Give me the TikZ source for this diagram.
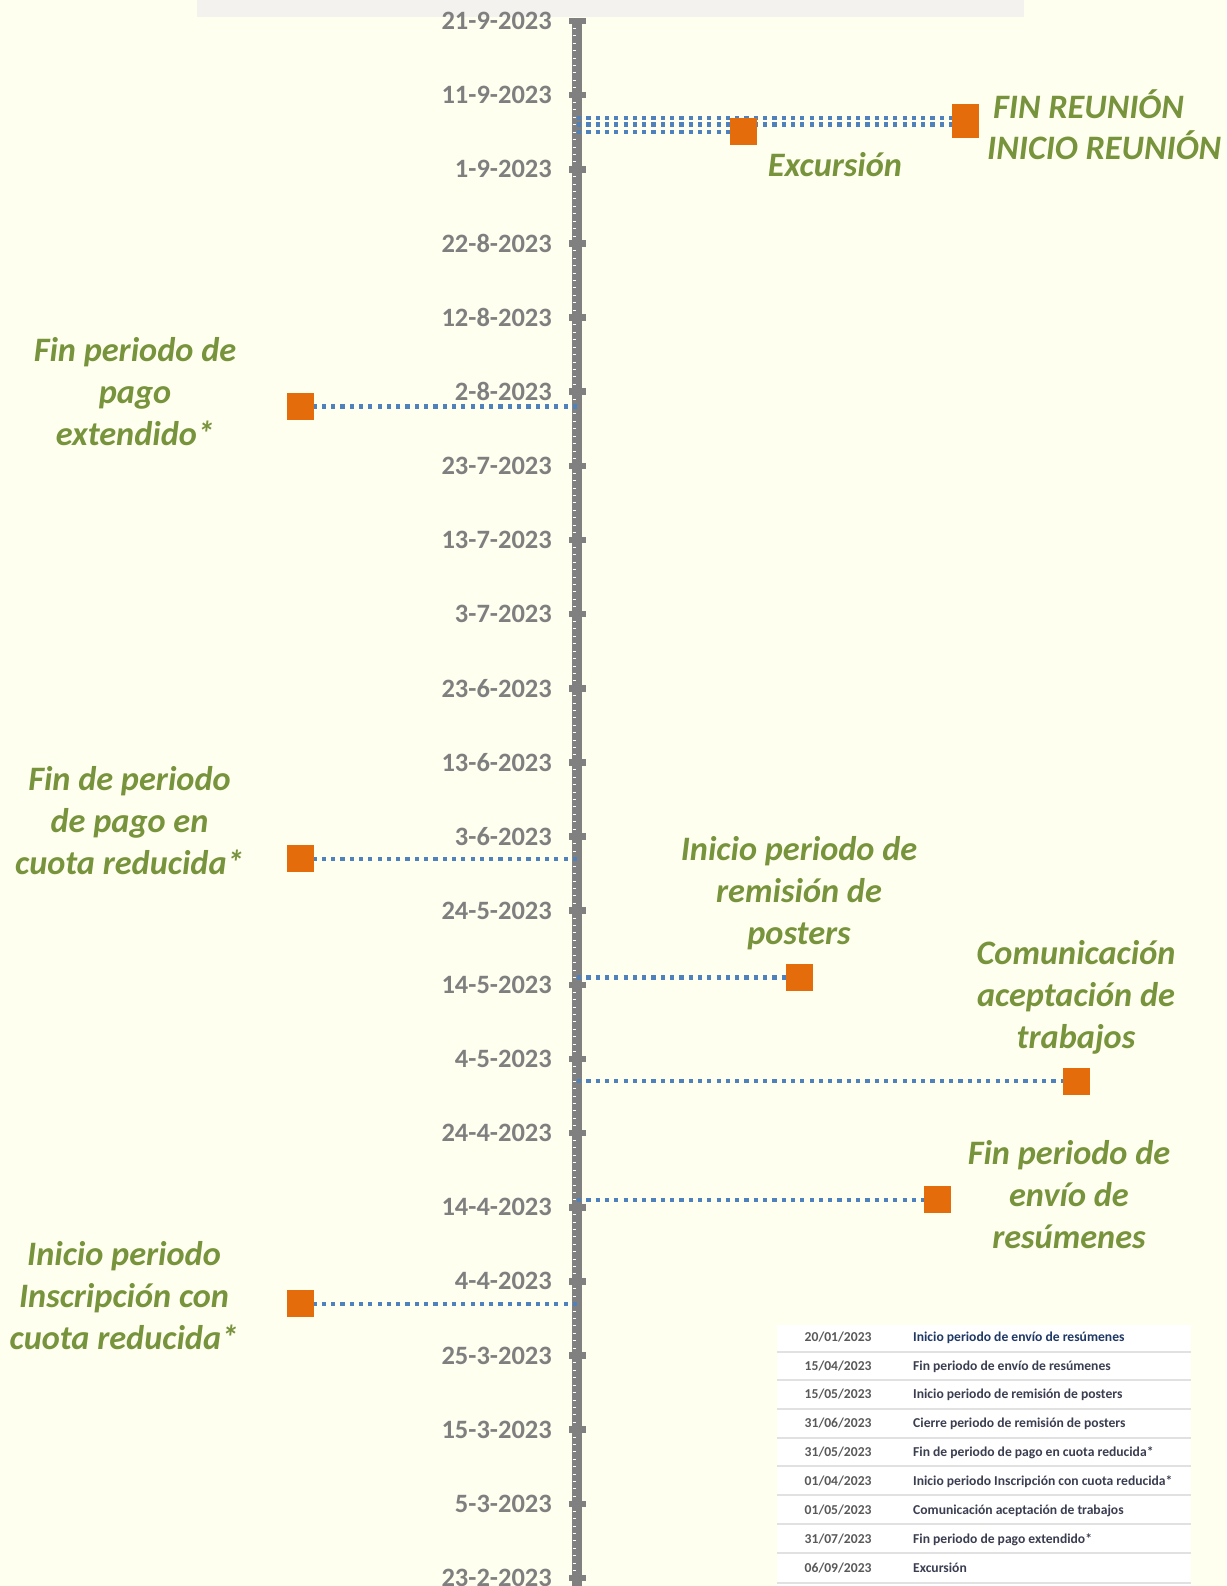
\documentclass[tikz,border=0pt]{standalone}
\usepackage{fontspec}
\setmainfont{Carlito}
\definecolor{bgc}{RGB}{255,255,240}
\definecolor{stripc}{RGB}{244,242,238}
\definecolor{axisgray}{RGB}{128,128,128}
\definecolor{labgray}{RGB}{127,127,127}
\definecolor{evgreen}{RGB}{119,147,60}
\definecolor{evorange}{RGB}{228,108,10}
\definecolor{leadblue}{RGB}{79,129,189}
\definecolor{tabdate}{RGB}{89,89,89}
\definecolor{tabnavy}{RGB}{31,56,100}
\definecolor{tabtext}{RGB}{59,62,80}
\definecolor{tabline}{RGB}{225,225,225}
\pgfdeclarelayer{back}
\pgfdeclarelayer{mid}
\pgfsetlayers{back,mid,main}
\newcommand\mlab[1]{\begin{tabular}{@{}c@{}}#1\end{tabular}}
\begin{document}
\begin{tikzpicture}[x=1pt,y=-1pt,
 evsq/.style={fill=evorange,draw=none,minimum width=27pt,minimum height=27pt,inner sep=0pt,outer sep=0pt},
 lead/.style={draw=leadblue,line width=4.2pt,dash pattern=on 4.2pt off 5.1pt},
 evlab/.style={text=evgreen,inner sep=0pt,font=\fontsize{34.3}{42}\selectfont\bfseries\itshape},
 ticklab/.style={text=labgray,inner sep=0pt,anchor=east,font=\fontsize{26.5}{32}\selectfont\bfseries},
 tabcell/.style={inner sep=0pt,anchor=base west,font=\fontsize{13.6}{16}\selectfont\bfseries},
 tabdt/.style={tabcell,text=tabdate},
 tabds/.style={tabcell,text=tabtext}]
\useasboundingbox (0,0) rectangle (1226,1586);
\begin{pgfonlayer}{back}
\fill[bgc] (0,0) rectangle (1226,1586);
\fill[stripc] (197,0) rectangle (1024,17.3);
\fill[axisgray] (572,18) rectangle (582,1586);
\foreach \d in {1,...,209} {\draw[white,line width=1pt] (572.5,{21+7.414*\d}) -- (576,{21+7.414*\d});}
\foreach \i in {0,...,21} {\fill[axisgray] (569,{21+74.14*\i-3.3}) rectangle (586,{21+74.14*\i+3.3});}
\end{pgfonlayer}
% tick labels
\foreach \lab [count=\i from 0] in {21-9-2023,11-9-2023,1-9-2023,22-8-2023,12-8-2023,2-8-2023,23-7-2023,13-7-2023,3-7-2023,23-6-2023,13-6-2023,3-6-2023,24-5-2023,14-5-2023,4-5-2023,24-4-2023,14-4-2023,4-4-2023,25-3-2023,15-3-2023,5-3-2023,23-2-2023}
  {\node[ticklab] (t\i) at (552,{21+74.14*\i}) {\lab};}
% event squares
\node[evsq] (s1) at (300.5,406.5) {};
\node[evsq] (s2) at (300.5,858.8) {};
\node[evsq] (s3) at (300.5,1303.6) {};
\node[evsq] (s4) at (799.5,977.4) {};
\node[evsq] (s5) at (1076.5,1081.2) {};
\node[evsq] (s6) at (937.5,1199.8) {};
\node[evsq] (s7) at (743.5,131.9) {};
\node[evsq] (s8) at (965.5,117.7) {};
\node[evsq] (s9) at (965.5,124.6) {};
% axis points
\coordinate (a1) at (577,406.5);
\coordinate (a2) at (577,858.8);
\coordinate (a3) at (577,1303.6);
\coordinate (a4) at (577,977.4);
\coordinate (a5) at (577,1081.2);
\coordinate (a6) at (577,1199.8);
\coordinate (a7) at (577,131.9);
\coordinate (a8) at (577,117.7);
\coordinate (a9) at (577,124.6);
\begin{pgfonlayer}{mid}
\foreach \k in {1,...,9} {\draw[lead] (a\k) -- (s\k.center);}
\end{pgfonlayer}
% event labels
\node[evlab] (l1) at (135,395.1) {\mlab{Fin periodo de\\pago\\extendido*}};
\node[evlab] (l2) at (129.5,824.1) {\mlab{Fin de periodo\\de pago en\\cuota reducida*}};
\node[evlab] (l3) at (124,1298.6) {\mlab{Inicio periodo\\Inscripción con\\cuota reducida*}};
\node[evlab] (l4) at (799,894.3) {\mlab{Inicio periodo de\\remisión de\\posters}};
\node[evlab] (l5) at (1076,998.1) {\mlab{Comunicación\\aceptación de\\trabajos}};
\node[evlab] (l6) at (1069,1198.1) {\mlab{Fin periodo de\\envío de\\resúmenes}};
\node[evlab,anchor=base] (l7) at (835,176.5) {Excursión};
\node[evlab,anchor=base west] (l8) at (993,118.8) {FIN REUNIÓN};
\node[evlab,anchor=base west] (l9) at (987,160) {INICIO REUNIÓN};
% table
\fill[white] (777,1325) rectangle (1191,1586);
\foreach \yy in {1351.7,1380,1409,1437.7,1466,1495,1524,1553.3,1582.7}
  {\draw[tabline,line width=1.8pt] (777,\yy) -- (1191,\yy);}
\node[tabdt] (d1) at (804.5,1341.9) {20/01/2023};
\node[tabcell,text=tabnavy] (e1) at (913,1341.9) {Inicio periodo de envío de resúmenes};
\node[tabdt] (d2) at (804.5,1370.4) {15/04/2023};
\node[tabds] (e2) at (913,1370.4) {Fin periodo de envío de resúmenes};
\node[tabdt] (d3) at (804.5,1398.9) {15/05/2023};
\node[tabds] (e3) at (913,1398.9) {Inicio periodo de remisión de posters};
\node[tabdt] (d4) at (804.5,1427.7) {31/06/2023};
\node[tabds] (e4) at (913,1427.7) {Cierre periodo de remisión de posters};
\node[tabdt] (d5) at (804.5,1456.4) {31/05/2023};
\node[tabds] (e5) at (913,1456.4) {Fin de periodo de pago en cuota reducida*};
\node[tabdt] (d6) at (804.5,1485.4) {01/04/2023};
\node[tabds] (e6) at (913,1485.4) {Inicio periodo Inscripción con cuota reducida*};
\node[tabdt] (d7) at (804.5,1514.4) {01/05/2023};
\node[tabds] (e7) at (913,1514.4) {Comunicación aceptación de trabajos};
\node[tabdt] (d8) at (804.5,1543.4) {31/07/2023};
\node[tabds] (e8) at (913,1543.4) {Fin periodo de pago extendido*};
\node[tabdt] (d9) at (804.5,1572.7) {06/09/2023};
\node[tabds] (e9) at (913,1572.7) {Excursión};
\end{tikzpicture}
\end{document}
